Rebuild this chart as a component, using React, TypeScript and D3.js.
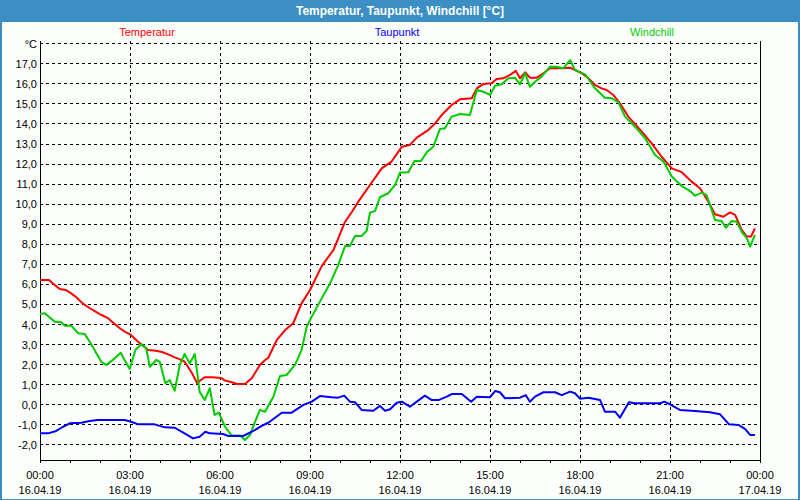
import React from "react";
import * as d3 from "d3";

const title = "Temperatur, Taupunkt, Windchill [°C]";
const seriesNames = ["Temperatur", "Taupunkt", "Windchill"];
const seriesColors = ["#ff0000", "#0000ff", "#00cc00"];
const yTicks = [-2, -1, 0, 1, 2, 3, 4, 5, 6, 7, 8, 9, 10, 11, 12, 13, 14, 15, 16, 17, 18];
const xMajorHours = [0, 3, 6, 9, 12, 15, 18, 21, 24];
const xTimeLabels = ["00:00", "03:00", "06:00", "09:00", "12:00", "15:00", "18:00", "21:00", "00:00"];
const xDateLabels = ["16.04.19", "16.04.19", "16.04.19", "16.04.19", "16.04.19", "16.04.19", "16.04.19", "16.04.19", "17.04.19"];

// [hour, °C]
const temperatur: [number, number][] = [
  [0, 6.2], [0.3, 6.2], [0.45, 6.0], [0.66, 5.75], [0.85, 5.7], [1.04, 5.53], [1.2, 5.35], [1.42, 5.03], [1.65, 4.8],
  [1.88, 4.59], [2.05, 4.45], [2.27, 4.29], [2.45, 4.05], [2.66, 3.79], [2.85, 3.6], [2.99, 3.5], [3.27, 3.12],
  [3.6, 2.71], [3.8, 2.68], [4.04, 2.62], [4.25, 2.5], [4.49, 2.34], [4.65, 2.25], [4.82, 2.12], [5.05, 1.6],
  [5.24, 1.05], [5.35, 1.2], [5.49, 1.35], [5.75, 1.35], [6.04, 1.31], [6.17, 1.18], [6.4, 1.1], [6.56, 1.01],
  [6.83, 1.01], [7.06, 1.3], [7.33, 1.96], [7.5, 2.2], [7.61, 2.32], [7.89, 3.2], [8.17, 3.7], [8.44, 4.04],
  [8.72, 5.03], [9.0, 5.7], [9.39, 6.89], [9.78, 7.69], [10.17, 9.1], [10.4, 9.6], [10.61, 10.1], [11.0, 10.93],
  [11.39, 11.76], [11.72, 12.1], [12.0, 12.71], [12.06, 12.84], [12.33, 12.93], [12.56, 13.29], [12.94, 13.67],
  [13.17, 14.0], [13.39, 14.42], [13.72, 14.92], [14.0, 15.2], [14.39, 15.25], [14.56, 15.75], [14.78, 15.97],
  [15.06, 16.0], [15.22, 16.22], [15.44, 16.25], [15.67, 16.42], [15.86, 16.62], [16.0, 16.25], [16.17, 16.55],
  [16.33, 16.28], [16.56, 16.28], [16.78, 16.5], [17.0, 16.75], [17.39, 16.75], [17.67, 16.78], [17.89, 16.62],
  [18.06, 16.5], [18.28, 16.25], [18.5, 15.92], [18.72, 15.75], [18.89, 15.67], [19.11, 15.42], [19.33, 15.0],
  [19.61, 14.34], [20.06, 13.59], [20.39, 13.01], [20.72, 12.34], [21.06, 11.76], [21.39, 11.57], [21.72, 11.1],
  [22.0, 10.77], [22.28, 10.1], [22.5, 9.47], [22.78, 9.35], [23.0, 9.57], [23.17, 9.44], [23.39, 8.69],
  [23.56, 8.36], [23.7, 8.36], [23.83, 8.77],
];

const taupunkt: [number, number][] = [
  [0, -1.45], [0.27, -1.45], [0.54, -1.33], [0.77, -1.12], [0.99, -0.95], [1.38, -0.92], [1.66, -0.83],
  [1.93, -0.78], [2.82, -0.78], [3.04, -0.87], [3.27, -1.0], [3.82, -1.0], [4.16, -1.15], [4.49, -1.17],
  [4.82, -1.45], [5.1, -1.7], [5.32, -1.62], [5.51, -1.37], [5.66, -1.45], [6.1, -1.48], [6.28, -1.58],
  [6.78, -1.58], [7.06, -1.37], [7.39, -1.08], [7.61, -0.92], [8.06, -0.42], [8.39, -0.42], [8.78, -0.03],
  [9.06, 0.13], [9.33, 0.41], [9.72, 0.35], [9.94, 0.33], [10.14, 0.43], [10.33, 0.13], [10.5, 0.1],
  [10.72, -0.28], [11.11, -0.32], [11.33, -0.08], [11.5, -0.32], [11.67, -0.25], [11.89, 0.08], [12.06, 0.13],
  [12.33, -0.12], [12.83, 0.43], [13.06, 0.21], [13.28, 0.21], [13.56, 0.38], [13.72, 0.51], [14.06, 0.51],
  [14.37, 0.13], [14.56, 0.38], [15.0, 0.35], [15.17, 0.66], [15.33, 0.6], [15.5, 0.3], [16.0, 0.33],
  [16.19, 0.46], [16.33, 0.13], [16.5, 0.38], [16.78, 0.6], [17.17, 0.6], [17.39, 0.46], [17.67, 0.63],
  [17.83, 0.55], [18.0, 0.28], [18.28, 0.33], [18.67, 0.21], [18.83, -0.37], [19.17, -0.37], [19.33, -0.67],
  [19.63, 0.1], [19.83, 0.05], [20.67, 0.05], [20.81, 0.13], [21.0, 0.0], [21.33, -0.28], [21.83, -0.33],
  [22.33, -0.4], [22.67, -0.5], [22.97, -1.0], [23.28, -1.03], [23.5, -1.23], [23.67, -1.53], [23.83, -1.53],
];

const windchill: [number, number][] = [
  [0, 4.5], [0.16, 4.54], [0.49, 4.12], [0.71, 4.09], [0.82, 3.92], [1.04, 3.92], [1.27, 3.54], [1.49, 3.5],
  [1.66, 3.12], [1.88, 2.54], [2.04, 2.12], [2.21, 1.96], [2.49, 2.29], [2.69, 2.57], [2.82, 2.21], [2.99, 1.76],
  [3.18, 2.71], [3.38, 3.0], [3.54, 2.79], [3.66, 1.87], [3.88, 2.21], [3.99, 2.12], [4.18, 1.05], [4.32, 1.21],
  [4.49, 0.68], [4.66, 1.96], [4.82, 2.51], [4.99, 2.04], [5.16, 2.51], [5.32, 0.63], [5.49, 0.21], [5.66, 0.8],
  [5.82, -0.53], [5.96, -0.42], [6.17, -1.12], [6.39, -1.56], [6.67, -1.56], [6.83, -1.78], [7.0, -1.53],
  [7.17, -0.87], [7.33, -0.28], [7.5, -0.37], [7.78, 0.38], [8.0, 1.41], [8.22, 1.46], [8.5, 1.96], [8.72, 2.71],
  [8.89, 3.87], [9.06, 4.37], [9.39, 5.28], [9.67, 6.03], [9.94, 6.94], [10.17, 7.89], [10.33, 7.89], [10.5, 8.39],
  [10.72, 8.39], [10.89, 8.65], [11.0, 9.55], [11.17, 9.64], [11.33, 10.32], [11.61, 10.52], [11.83, 10.93],
  [12.0, 11.55], [12.28, 11.57], [12.48, 12.13], [12.7, 12.13], [12.89, 12.56], [13.11, 12.84], [13.33, 13.72],
  [13.5, 13.76], [13.72, 14.34], [14.0, 14.47], [14.33, 14.42], [14.56, 15.67], [14.78, 15.58], [15.0, 15.42],
  [15.17, 15.88], [15.39, 15.95], [15.61, 16.25], [15.83, 16.28], [16.0, 15.95], [16.17, 16.5], [16.33, 15.83],
  [16.5, 16.08], [16.72, 16.33], [17.0, 16.83], [17.22, 16.83], [17.44, 16.75], [17.67, 17.16], [17.83, 16.67],
  [18.17, 16.45], [18.5, 15.75], [18.83, 15.28], [19.06, 15.25], [19.28, 15.05], [19.5, 14.34], [19.83, 13.84],
  [20.17, 13.26], [20.5, 12.43], [20.78, 12.1], [21.06, 11.35], [21.39, 10.88], [21.67, 10.63], [21.83, 10.4],
  [22.06, 10.55], [22.22, 10.43], [22.5, 9.19], [22.72, 9.14], [22.86, 8.8], [23.06, 9.14], [23.22, 9.1],
  [23.39, 8.6], [23.56, 8.28], [23.67, 7.86], [23.83, 8.44],
];

const W = 800;
const H = 500;
const FONT = "'Liberation Sans', Arial, sans-serif";
const FRAME = "#3b8fc4";

export default function App() {
  const left = 40, right = 760, top = 41, bottom = 460;
  const x = d3.scaleLinear().domain([0, 24]).range([left, right]);
  const y = d3.scaleLinear().domain([-2, 18]).range([444.4, 43.2]);
  const line = d3.line<[number, number]>().x((d) => x(d[0])).y((d) => y(d[1]));
  const hours = d3.range(0, 25);
  const legendX = [147, 397, 652];
  const seriesData = [temperatur, taupunkt, windchill];
  const drawOrder = [0, 2, 1];
  const px = (v: number) => Math.round(v) + 0.5;

  return (
    <svg width={W} height={H} style={{ position: "absolute", left: 0, top: 0, display: "block" }} fontFamily={FONT}>
      <rect x={0} y={0} width={W} height={H} fill={FRAME} />
      <rect x={2} y={22} width={W - 4} height={H - 23} fill="#fcfefc" />
      <text x={W / 2} y={15} textAnchor="middle" fill="#ffffff" fontWeight="bold" fontSize={12}
        textLength={208} lengthAdjust="spacingAndGlyphs">{title}</text>

      {seriesNames.map((n, i) => (
        <text key={n} x={legendX[i]} y={36} textAnchor="middle" fontSize={11} fill={seriesColors[i]}>{n}</text>
      ))}

      {/* horizontal grid */}
      {yTicks.map((t) => (
        <line key={"hg" + t} x1={left} x2={right} y1={px(y(t))} y2={px(y(t))} stroke="#000" strokeWidth={1}
          strokeDasharray="3,3" />
      ))}
      {/* vertical grid */}
      {xMajorHours.filter((h) => h > 0 && h < 24).map((h) => (
        <line key={"vg" + h} x1={px(x(h))} x2={px(x(h))} y1={top} y2={bottom} stroke="#000" strokeWidth={1}
          strokeDasharray="3,3" />
      ))}

      {/* axes */}
      <line x1={left + 0.5} x2={left + 0.5} y1={top} y2={bottom + 3} stroke="#000" />
      <line x1={right + 0.5} x2={right + 0.5} y1={top} y2={bottom + 3} stroke="#000" />
      <line x1={left} x2={right + 1} y1={bottom + 0.5} y2={bottom + 0.5} stroke="#000" />
      {hours.map((h) => (
        <line key={"tk" + h} x1={px(x(h))} x2={px(x(h))} y1={bottom} y2={bottom + 3} stroke="#000" />
      ))}

      {/* y labels */}
      {yTicks.map((t) => (
        <text key={"yl" + t} x={37} y={y(t) + 4.5} textAnchor="end" fontSize={11} fill="#000">
          {t === 18 ? "°C" : d3.format(".1f")(t).replace(".", ",").replace("−", "-")}
        </text>
      ))}

      {/* x labels */}
      {xMajorHours.map((h, i) => (
        <g key={"xl" + h}>
          <text x={x(h)} y={479} textAnchor="middle" fontSize={11} fill="#000">{xTimeLabels[i]}</text>
          <text x={x(h)} y={494} textAnchor="middle" fontSize={11} fill="#000">{xDateLabels[i]}</text>
        </g>
      ))}

      {/* series */}
      {drawOrder.map((i) => (
        <path key={"s" + i} d={line(seriesData[i]) || ""} fill="none" stroke={seriesColors[i]} strokeWidth={2}
          strokeLinejoin="round" />
      ))}
    </svg>
  );
}
